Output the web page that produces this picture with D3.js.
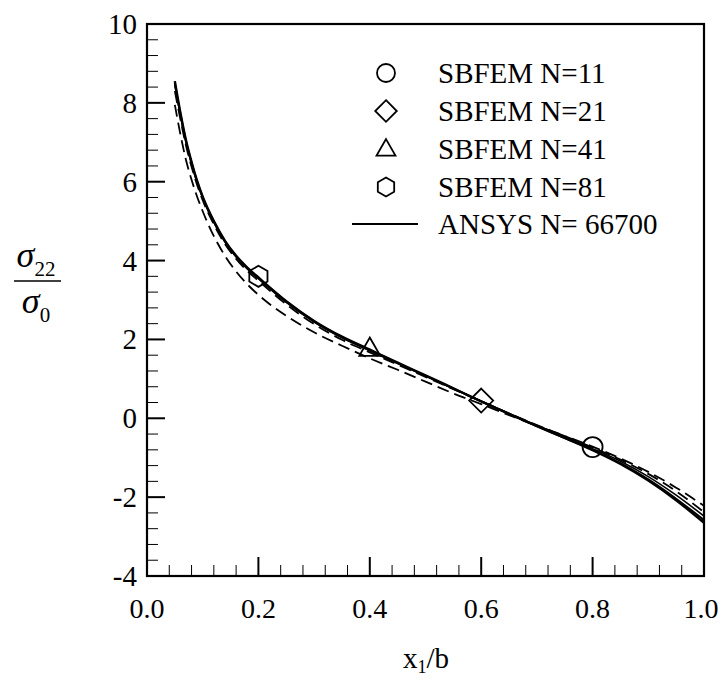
<!DOCTYPE html>
<html><head><meta charset="utf-8">
<script src="https://cdn.jsdelivr.net/npm/d3@7"></script>
</head><body style="margin:0">
<script>
// ---- data ----
const xVals = [0.05,0.06,0.07,0.08,0.09,0.10,0.12,0.14,0.16,0.18,0.20,0.25,0.30,0.35,0.40,0.45,0.50,0.55,0.60,0.65,0.70,0.75,0.80,0.85,0.90,0.95,1.00];
const ansys = [8.55,7.75,7.05,6.50,6.02,5.62,5.00,4.50,4.12,3.82,3.57,2.97,2.47,2.07,1.74,1.41,1.09,0.76,0.43,0.11,-0.20,-0.50,-0.81,-1.16,-1.58,-2.08,-2.65];
const n81   = [8.50,7.72,7.03,6.48,6.00,5.61,4.99,4.49,4.11,3.81,3.56,2.96,2.46,2.06,1.73,1.40,1.08,0.76,0.43,0.11,-0.20,-0.50,-0.80,-1.14,-1.55,-2.04,-2.58];
const n41   = [8.45,7.68,7.00,6.45,5.98,5.59,4.97,4.47,4.09,3.79,3.54,2.94,2.44,2.04,1.71,1.39,1.07,0.75,0.43,0.12,-0.18,-0.47,-0.77,-1.09,-1.48,-1.95,-2.48];
const n21   = [8.30,7.58,6.92,6.38,5.92,5.53,4.92,4.42,4.04,3.74,3.49,2.89,2.39,1.99,1.67,1.36,1.05,0.74,0.43,0.12,-0.17,-0.45,-0.74,-1.05,-1.41,-1.85,-2.38];
const n11   = [7.95,7.20,6.55,6.05,5.62,5.25,4.62,4.12,3.72,3.40,3.13,2.60,2.18,1.84,1.52,1.23,0.93,0.63,0.36,0.08,-0.19,-0.45,-0.72,-1.02,-1.36,-1.76,-2.22];
const markerX = [0.8, 0.6, 0.4, 0.2];
const markerY = [-0.73, 0.45, 1.77, 3.60];
const markerShapes = ["circle","diamond","triangle","hexagon"];
const legendLabels = ["SBFEM N=11","SBFEM N=21","SBFEM N=41","SBFEM N=81","ANSYS N= 66700"];
const xTicks = [0.0,0.2,0.4,0.6,0.8,1.0];
const xTickLabels = ["0.0","0.2","0.4","0.6","0.8","1.0"];
const yTicks = [-4,-2,0,2,4,6,8,10];
const yTickLabels = ["-4","-2","0","2","4","6","8","10"];

// ---- layout ----
const W = 721, H = 680;
const L = 147, R = 704, T = 24, B = 576;
const FONT = "Liberation Serif";

const svg = d3.select("body").append("svg").attr("width", W).attr("height", H).style("display","block");

const x = d3.scaleLinear().domain([0,1]).range([L,R]);
const y = d3.scaleLinear().domain([-4,10]).range([B,T]);

const xMinor = d3.range(0, 1.0001, 0.04).filter(v => Math.abs(v/0.2 - Math.round(v/0.2)) > 1e-6);
const yMinor = d3.range(-4, 10.0001, 0.4).filter(v => Math.abs(v/2 - Math.round(v/2)) > 1e-6);

const g = svg.append("g");
g.selectAll(".xmin").data(xMinor).enter().append("line")
  .attr("x1", d=>x(d)).attr("x2", d=>x(d)).attr("y1", B).attr("y2", B-11)
  .attr("stroke", "#000").attr("stroke-width", 1);
g.selectAll(".xmaj").data(xTicks).enter().append("line")
  .attr("x1", d=>x(d)).attr("x2", d=>x(d)).attr("y1", B).attr("y2", B-19)
  .attr("stroke", "#000").attr("stroke-width", 2);
g.selectAll(".ymin").data(yMinor).enter().append("line")
  .attr("y1", d=>y(d)).attr("y2", d=>y(d)).attr("x1", L).attr("x2", L+11)
  .attr("stroke", "#000").attr("stroke-width", 1);
g.selectAll(".ymaj").data(yTicks).enter().append("line")
  .attr("y1", d=>y(d)).attr("y2", d=>y(d)).attr("x1", L).attr("x2", L+18)
  .attr("stroke", "#000").attr("stroke-width", 2);

g.selectAll(".xl").data(xTicks).enter().append("text")
  .attr("x", d=>Math.min(x(d), W-20)).attr("y", B+42).attr("text-anchor","middle")
  .style("font-family", FONT).attr("font-size", 28).text((d,i)=>xTickLabels[i]);
g.selectAll(".yl").data(yTicks).enter().append("text")
  .attr("x", L-10).attr("y", d=>y(d)+10).attr("text-anchor","end")
  .style("font-family", FONT).attr("font-size", 29).text((d,i)=>yTickLabels[i]);

svg.append("rect").attr("x", L).attr("y", T).attr("width", R-L).attr("height", B-T)
  .attr("fill","none").attr("stroke","#000").attr("stroke-width",2.2);

const line = d3.line().x((d,i)=>x(xVals[i])).y(d=>y(d)).curve(d3.curveMonotoneX);
const series = [
  {v:n11, w:1.8, dash:"12,6"},
  {v:n21, w:1.8, dash:"12,6"},
  {v:n41, w:1.6, dash:null},
  {v:n81, w:2.0, dash:null},
  {v:ansys, w:2.4, dash:null}
];
svg.append("g").selectAll("path").data(series).enter().append("path")
  .attr("d", d=>line(d.v)).attr("fill","none").attr("stroke","#000")
  .attr("stroke-width", d=>d.w).attr("stroke-dasharray", d=>d.dash);

function shapePath(kind, s) {
  if (kind === "circle") return d3.symbol(d3.symbolCircle, Math.PI*s*s)();
  if (kind === "diamond") {
    const r = s*1.2;
    return d3.line()([[0,-r],[r,0],[0,r],[-r,0]]) + "Z";
  }
  if (kind === "triangle") {
    const r = s*1.05;
    return d3.line()([[0,-r*1.05],[r,r*0.7],[-r,r*0.7]]) + "Z";
  }
  const pts = d3.range(6).map(k => { const a = -Math.PI/2 + k*Math.PI/3; return [s*1.05*Math.cos(a), s*1.05*Math.sin(a)]; });
  return d3.line()(pts) + "Z";
}
svg.append("g").selectAll("path").data(markerX).enter().append("path")
  .attr("transform", (d,i)=>`translate(${x(d)},${y(markerY[i])})`)
  .attr("d", (d,i)=>shapePath(markerShapes[i], 10))
  .attr("fill","none").attr("stroke","#000").attr("stroke-width",1.8);

const legY = [73, 111, 149, 187, 224];
const lg = svg.append("g");
markerShapes.forEach((s,i)=>{
  lg.append("path").attr("transform",`translate(386,${legY[i]})`)
    .attr("d", shapePath(s, 9)).attr("fill","none").attr("stroke","#000").attr("stroke-width",1.8);
});
lg.append("line").attr("x1",352).attr("x2",418).attr("y1",legY[4]).attr("y2",legY[4])
  .attr("stroke","#000").attr("stroke-width",2);
legendLabels.forEach((t,i)=>{
  lg.append("text").attr("x",438).attr("y",legY[i]+10)
    .style("font-family", FONT).attr("font-size",29).text(t);
});

const xl = svg.append("text").attr("x", 426).attr("y", 668).attr("text-anchor","middle")
  .style("font-family", FONT).attr("font-size",29);
xl.append("tspan").text("x");
xl.append("tspan").attr("font-size",18).attr("dy",5).text("1");
xl.append("tspan").attr("dy",-5).text("/b");

const yl = svg.append("g");
const t1 = yl.append("text").attr("x", 36).attr("y", 267).attr("text-anchor","middle").style("font-family", FONT);
t1.append("tspan").attr("font-size",36).attr("font-style","italic").text("σ");
t1.append("tspan").attr("font-size",21).attr("dy",9).text("22");
yl.append("line").attr("x1",14).attr("x2",61).attr("y1",281).attr("y2",281).attr("stroke","#000").attr("stroke-width",1.5);
const t2 = yl.append("text").attr("x", 36).attr("y", 313).attr("text-anchor","middle").style("font-family", FONT);
t2.append("tspan").attr("font-size",36).attr("font-style","italic").text("σ");
t2.append("tspan").attr("font-size",21).attr("dy",9).text("0");
</script>
</body></html>
